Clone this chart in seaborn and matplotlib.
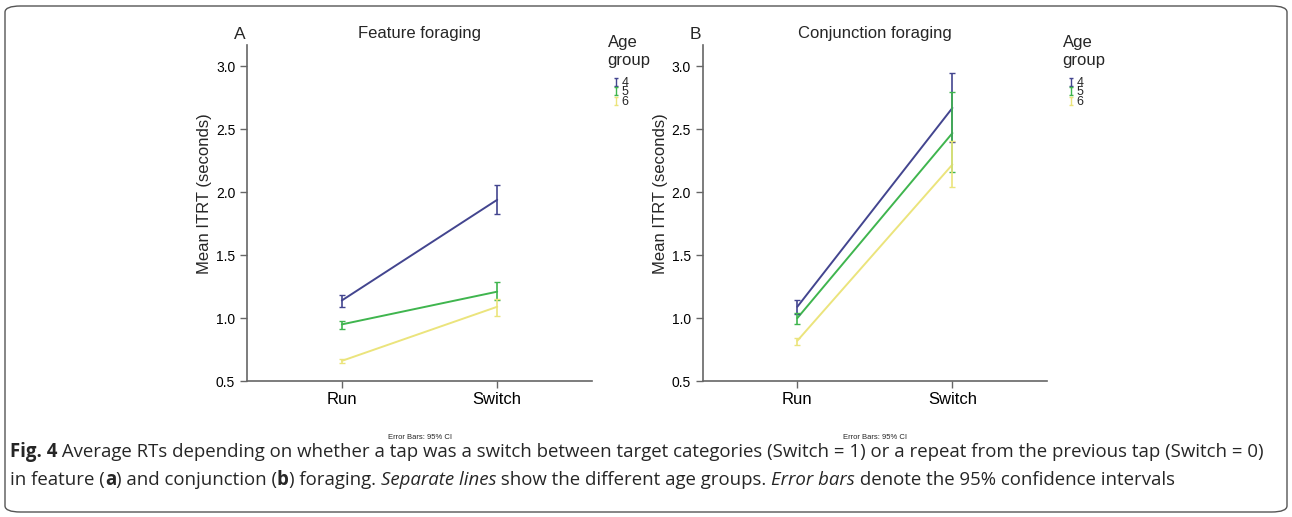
import numpy as np
import pandas as pd
import matplotlib
matplotlib.use('Agg')
import matplotlib.pyplot as plt
from matplotlib.lines import Line2D
from matplotlib.patches import FancyBboxPatch
from matplotlib.path import Path
import seaborn as sns

# data
conditions = ['Run', 'Switch']
age_groups = ['4', '5', '6']

feature_mean = {'4': [1.14, 1.94], '5': [0.95, 1.21], '6': [0.66, 1.09]}
feature_lo = {'4': [1.09, 1.83], '5': [0.91, 1.14], '6': [0.645, 1.02]}
feature_hi = {'4': [1.18, 2.06], '5': [0.98, 1.29], '6': [0.675, 1.15]}

conj_mean = {'4': [1.09, 2.67], '5': [1.00, 2.47], '6': [0.82, 2.22]}
conj_lo = {'4': [1.03, 2.40], '5': [0.95, 2.16], '6': [0.79, 2.04]}
conj_hi = {'4': [1.14, 2.95], '5': [1.04, 2.80], '6': [0.84, 2.41]}

colors = {'4': '#43458f', '5': '#3fb54e', '6': '#ebe47c'}

# little error bar glyph for the legend
ibar = Path([(-0.5, -1), (0.5, -1), (0, -1), (0, 1), (-0.5, 1), (0.5, 1)],
            [Path.MOVETO, Path.LINETO, Path.MOVETO, Path.LINETO, Path.MOVETO, Path.LINETO])


def make_df(mean, lo, hi):
    rows = []
    for g in age_groups:
        for i, c in enumerate(conditions):
            rows.append({'pos': i, 'cond': c, 'age': g,
                         'mean': mean[g][i], 'lo': lo[g][i], 'hi': hi[g][i]})
    return pd.DataFrame(rows)


def draw_panel(ax, df, letter, title):
    sns.lineplot(data=df, x='pos', y='mean', hue='age', hue_order=age_groups,
                 palette=colors, lw=1.4, legend=False, ax=ax)
    for g in age_groups:
        sub = df[df['age'] == g]
        ax.errorbar(sub['pos'], sub['mean'],
                    yerr=[sub['mean'] - sub['lo'], sub['hi'] - sub['mean']],
                    fmt='none', ecolor=colors[g], elinewidth=1.2, capsize=2, capthick=1)
    ax.set_xlim(-0.61, 1.61)
    ax.set_ylim(0.5, 3.17)
    ax.set_xticks([0, 1])
    ax.set_xticklabels(conditions, fontsize=12)
    ax.set_yticks([0.5, 1.0, 1.5, 2.0, 2.5, 3.0])
    ax.set_yticklabels(['0.5', '1.0', '1.5', '2.0', '2.5', '3.0'], fontsize=10)
    ax.set_xlabel('')
    ax.set_ylabel('Mean ITRT (seconds)', fontsize=12)
    ax.yaxis.set_label_coords(-0.101, 0.557)
    for s in ['left', 'bottom']:
        ax.spines[s].set_color('#666666')
        ax.spines[s].set_linewidth(1.2)
    ax.tick_params(axis='both', colors='#666666', length=5, width=1, labelcolor='black')
    ax.tick_params(axis='x', pad=3)
    ax.set_title(title, fontsize=12, pad=5)
    ax.text(-0.005, 1.01, letter, transform=ax.transAxes, fontsize=12.5,
            ha='right', va='bottom')
    ax.text(0.5, -0.167, 'Error Bars: 95% CI', transform=ax.transAxes,
            fontsize=5.5, ha='center', va='center')

    # legend title as its own text, entries packed tight beneath it
    ax.text(1.045, 1.03, 'Age\ngroup', transform=ax.transAxes, fontsize=12,
            ha='left', va='top', linespacing=1.3)
    handles = [Line2D([], [], ls='none', marker=ibar, markersize=5.5, mew=1,
                      color=colors[g]) for g in age_groups]
    ax.legend(handles, age_groups, loc='upper left',
              bbox_to_anchor=(1.06, 0.905), frameon=False, fontsize=9,
              labelspacing=-0.2, handlelength=0.5,
              handletextpad=0.2, borderpad=0, borderaxespad=0)


sns.set_style('ticks')
plt.rcParams['font.family'] = ['Liberation Sans', 'DejaVu Sans']

fig = plt.figure(figsize=(12.92, 5.17), dpi=100)
axA = fig.add_axes([0.1912, 0.263, 0.267, 0.65])
axB = fig.add_axes([0.5439, 0.263, 0.2665, 0.65])
sns.despine(fig=fig)

draw_panel(axA, make_df(feature_mean, feature_lo, feature_hi), 'A', 'Feature foraging')
draw_panel(axB, make_df(conj_mean, conj_lo, conj_hi), 'B', 'Conjunction foraging')

# rounded border round the figure
border = FancyBboxPatch((5 / 1292, 5 / 517), 1282 / 1292, 506 / 517,
                        boxstyle='round,pad=0,rounding_size=0.012',
                        transform=fig.transFigure, fill=False,
                        edgecolor='#555555', lw=1.0)
fig.patches.append(border)

# caption with mixed styles
cap_font = ['Open Sans', 'DejaVu Sans']
cap_size = 13.38
line1 = [('Fig. 4', 'bold', 'normal'),
         (' Average RTs depending on whether a tap was a switch between target categories '
          '(Switch = 1) or a repeat from the previous tap (Switch = 0)', 'normal', 'normal')]
line2 = [('in feature (', 'normal', 'normal'), ('a', 'bold', 'normal'),
         (') and conjunction (', 'normal', 'normal'), ('b', 'bold', 'normal'),
         (') foraging. ', 'normal', 'normal'), ('Separate lines', 'normal', 'italic'),
         (' show the different age groups. ', 'normal', 'normal'),
         ('Error bars', 'normal', 'italic'),
         (' denote the 95% confidence intervals', 'normal', 'normal')]

renderer = fig.canvas.get_renderer()


def draw_line(parts, x0, y0):
    x = x0
    for txt, weight, style in parts:
        t = fig.text(x / 1292, 1 - y0 / 517, txt, fontsize=cap_size, family=cap_font,
                     weight=weight, style=style, ha='left', va='center')
        bb = t.get_window_extent(renderer=renderer)
        x += bb.width


draw_line(line1, 10, 452)
draw_line(line2, 10, 480)

fig.savefig('out.png', dpi=100)
